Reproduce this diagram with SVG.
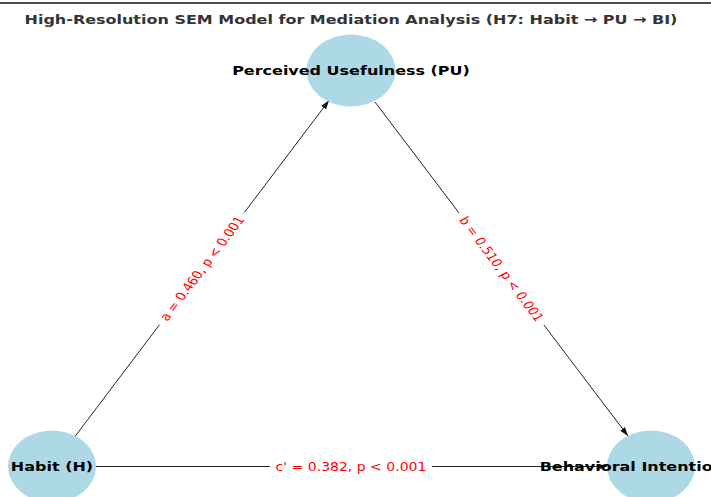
<svg xmlns="http://www.w3.org/2000/svg" width="711" height="497" viewBox="0 0 711 497">
  <style>
    .title { font-family: "DejaVu Sans", sans-serif; font-weight: bold; font-size: 13px; fill: #333333; text-anchor: middle; }
    .node { fill: #ADD8E6; stroke: none; }
    .nlabel { font-family: "DejaVu Sans", sans-serif; font-weight: bold; font-size: 13px; fill: #000000; text-anchor: middle; dominant-baseline: central; }
    .edge { stroke: #222222; stroke-width: 1; fill: none; }
    .elabel { font-family: "DejaVu Sans", sans-serif; font-size: 11.4px; fill: #FF0000; text-anchor: middle; dominant-baseline: central; }
    .ebox { fill: #FFFFFF; stroke: none; }
  </style>
  <defs>
    <marker id="arrow" viewBox="0 0 9 6" refX="9" refY="3" markerWidth="9" markerHeight="6" markerUnits="userSpaceOnUse" orient="auto">
      <path d="M0,0 L9,3 L0,6 z" fill="#111111"/>
    </marker>
  </defs>
  <rect x="0" y="0" width="711" height="497" fill="#FFFFFF"/>
  <line x1="0" y1="3" x2="711" y2="3" stroke="#111111" stroke-width="1.6"/>
  <g id="title" transform="translate(351,24) scale(1.23,1)">
    <text class="title" x="0" y="0">High-Resolution SEM Model for Mediation Analysis (H7: Habit → PU → BI)</text>
  </g>

  <g id="edges">
    <line class="edge" x1="75" y1="436.5" x2="329" y2="100.5" marker-end="url(#arrow)"/>
    <line class="edge" x1="375" y1="102" x2="628" y2="436" marker-end="url(#arrow)"/>
    <line class="edge" x1="96" y1="466.5" x2="607" y2="466.5" marker-end="url(#arrow)"/>
    <g transform="translate(202,268.5) scale(1.23,1) rotate(-58.4)">
      <rect class="ebox" x="-66" y="-9" width="132" height="18" rx="3"/>
      <text class="elabel" x="0" y="0">a = 0.460, p &lt; 0.001</text>
    </g>
    <g transform="translate(501.5,269) scale(1.23,1) rotate(58.4)">
      <rect class="ebox" x="-66" y="-9" width="132" height="18" rx="3"/>
      <text class="elabel" x="0" y="0">b = 0.510, p &lt; 0.001</text>
    </g>
    <g transform="translate(351,466.5) scale(1.23,1)">
      <rect class="ebox" x="-66" y="-9" width="132" height="18" rx="3"/>
      <text class="elabel" x="0" y="0">c' = 0.382, p &lt; 0.001</text>
    </g>
  </g>

  <g id="node-pu">
    <ellipse class="node" cx="351" cy="70.5" rx="44.5" ry="36"/>
    <g transform="translate(351,70.5) scale(1.23,1)">
      <text class="nlabel" x="0" y="0">Perceived Usefulness (PU)</text>
    </g>
  </g>
  <g id="node-h">
    <ellipse class="node" cx="52" cy="466.5" rx="44" ry="36"/>
    <g transform="translate(52,466.5) scale(1.23,1)">
      <text class="nlabel" x="0" y="0">Habit (H)</text>
    </g>
  </g>
  <g id="node-bi">
    <ellipse class="node" cx="651" cy="466.5" rx="44" ry="36"/>
    <g transform="translate(651,466.5) scale(1.23,1)">
      <text class="nlabel" x="0" y="0">Behavioral Intention (BI)</text>
    </g>
  </g>
</svg>
